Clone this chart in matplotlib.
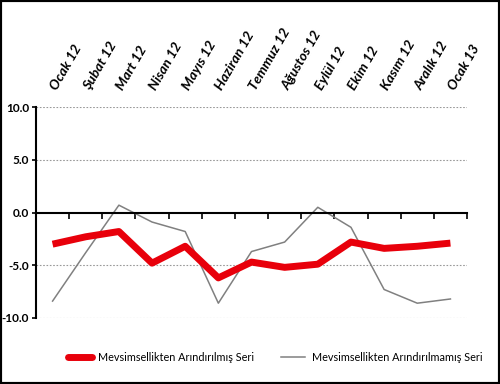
import matplotlib.pyplot as plt
from matplotlib.lines import Line2D

months = ["Ocak 12", "Şubat 12", "Mart 12", "Nisan 12", "Mayıs 12", "Haziran 12",
          "Temmuz 12", "Ağustos 12", "Eylül 12", "Ekim 12", "Kasım 12", "Aralık 12",
          "Ocak 13"]
seasonal_adj = [-3.0, -2.3, -1.8, -4.8, -3.2, -6.2, -4.7, -5.2, -4.9, -2.8, -3.4, -3.2, -2.9]
not_adj = [-8.4, -3.8, 0.7, -0.9, -1.8, -8.6, -3.7, -2.8, 0.5, -1.4, -7.3, -8.6, -8.2]
yticks = [-10, -5, 0, 5, 10]

plt.rcParams["font.family"] = ["Lato", "DejaVu Sans"]

fig = plt.figure(figsize=(5, 3.84), dpi=100)
ax = fig.add_axes([0.072, 0.172, 0.862, 0.549])

x = list(range(len(months)))

ax.plot(x, seasonal_adj, color="#e8000b", linewidth=5, solid_capstyle="butt",
        label="Mevsimsellikten Arındırılmış Seri", zorder=3)
ax.plot(x, not_adj, color="#808080", linewidth=1.1,
        label="Mevsimsellikten Arındırılmamış Seri", zorder=2)

ax.set_xlim(-0.5, len(months) - 0.5)
ax.set_ylim(-10, 10)

for v in yticks:
    if v != 0:
        ax.axhline(v, color="#999999", linewidth=0.8, linestyle=(0, (1.5, 1.5)), zorder=1)

ax.spines["top"].set_visible(False)
ax.spines["right"].set_visible(False)
ax.spines["bottom"].set_position(("data", 0))
ax.spines["bottom"].set_linewidth(1.5)
ax.spines["left"].set_linewidth(1.5)

ax.set_yticks(yticks)
ax.set_yticklabels([f"{v:.1f}" for v in yticks], fontsize=8.5, fontweight="bold")
ax.tick_params(axis="y", direction="out", length=3, width=1.2, pad=2)

ax.set_xticks([i + 0.5 for i in range(len(months))])
ax.set_xticklabels([])
ax.tick_params(axis="x", direction="out", length=4, width=1.2)

for i, m in enumerate(months):
    ax.text(i + 0.02, 1.085, m, transform=ax.get_xaxis_transform(),
            rotation=60, rotation_mode="anchor", ha="left", va="center",
            fontsize=10, fontweight="bold", fontstyle="italic")

handles = [Line2D([], [], color="#e8000b", linewidth=5, solid_capstyle="round"),
           Line2D([], [], color="#808080", linewidth=1.1)]
fig.legend(handles, ["Mevsimsellikten Arındırılmış Seri", "Mevsimsellikten Arındırılmamış Seri"],
           loc="center", bbox_to_anchor=(0.55, 0.07), ncol=2, frameon=False,
           fontsize=7.8, handlelength=2.2, columnspacing=2.5, handletextpad=0.6)

fig.patches.append(plt.Rectangle((0, 0), 1, 1, transform=fig.transFigure,
                                 fill=False, edgecolor="black", linewidth=3))

fig.savefig("out.png", dpi=100)
